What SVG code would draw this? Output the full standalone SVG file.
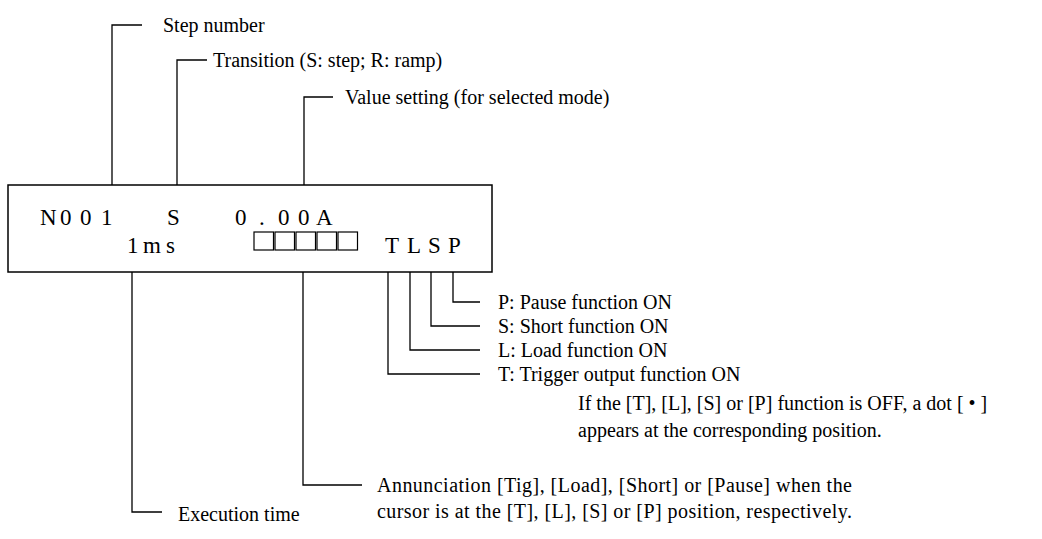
<svg xmlns="http://www.w3.org/2000/svg" width="1042" height="539" viewBox="0 0 1042 539">
<style>
.lbl{font-family:"Liberation Serif","Times New Roman",serif;font-size:20px;fill:#000}
.disp{font-family:"Liberation Serif","Times New Roman",serif;font-size:23px;fill:#000}
.ln{fill:none;stroke:#000;stroke-width:1.3}
.sq{fill:none;stroke:#000;stroke-width:1.2}
</style>
<rect width="1042" height="539" fill="#fff"/>
<g id="display">
<rect x="8" y="185" width="484" height="87" fill="none" stroke="#000" stroke-width="1.5"/>
<text class="disp" x="40 60 80 101" y="225">N001</text>
<text class="disp" x="167" y="225">S</text>
<text class="disp" x="235 259 278 298 316" y="225">0.00A</text>
<text class="disp" x="127 143 166" y="253">1ms</text>
<g id="squares">
<rect class="sq" x="254" y="232" width="19.5" height="18"/>
<rect class="sq" x="275" y="232" width="19.5" height="18"/>
<rect class="sq" x="296" y="232" width="19.5" height="18"/>
<rect class="sq" x="317" y="232" width="19.5" height="18"/>
<rect class="sq" x="338" y="232" width="19.5" height="18"/>
</g>
<text class="disp" x="385 407 428 448" y="253">TLSP</text>
</g>
<g id="connectors">
<path class="ln" d="M112 185 V25 H142"/>
<path class="ln" d="M177 185 V60 H207"/>
<path class="ln" d="M304 185 V97 H333"/>
<path class="ln" d="M132 272 V512 H162"/>
<path class="ln" d="M303 272 V485 H362"/>
<path class="ln" d="M388 272 V374 H480"/>
<path class="ln" d="M410 272 V350 H480"/>
<path class="ln" d="M431 272 V326 H480"/>
<path class="ln" d="M453 272 V302 H480"/>
</g>
<g id="label-step"><text class="lbl" x="163" y="32">Step number</text></g>
<g id="label-transition"><text class="lbl" x="213" y="67">Transition (S: step; R: ramp)</text></g>
<g id="label-value"><text class="lbl" x="345" y="104">Value setting (for selected mode)</text></g>
<g id="label-p"><text class="lbl" x="498" y="309">P: Pause function ON</text></g>
<g id="label-s"><text class="lbl" x="498" y="333">S: Short function ON</text></g>
<g id="label-l"><text class="lbl" x="498" y="357">L: Load function ON</text></g>
<g id="label-t"><text class="lbl" x="498" y="381">T: Trigger output function ON</text></g>
<g id="note-off">
<text class="lbl" x="578" y="410">If the [T], [L], [S] or [P] function is OFF, a dot [ • ]</text>
<text class="lbl" x="578" y="437">appears at the corresponding position.</text>
</g>
<g id="label-annunciation">
<text class="lbl" x="377" y="492" textLength="475" lengthAdjust="spacing">Annunciation [Tig], [Load], [Short] or [Pause] when the</text>
<text class="lbl" x="377" y="518" textLength="475" lengthAdjust="spacing">cursor is at the [T], [L], [S] or [P] position, respectively.</text>
</g>
<g id="label-exec"><text class="lbl" x="178" y="521">Execution time</text></g>
</svg>
